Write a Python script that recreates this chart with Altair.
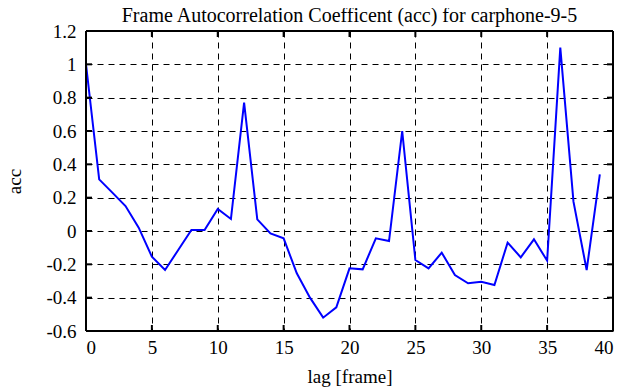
import altair as alt
import pandas as pd

lags = list(range(40))
acc = [1.0, 0.31, 0.23, 0.15, 0.02, -0.154, -0.234, -0.114, 0.006, 0.006,
       0.132, 0.072, 0.77, 0.07, -0.014, -0.044, -0.254, -0.40, -0.52, -0.458,
       -0.224, -0.23, -0.044, -0.06, 0.60, -0.174, -0.224, -0.13, -0.264, -0.314,
       -0.304, -0.324, -0.07, -0.158, -0.05, -0.178, 1.10, 0.176, -0.234, 0.34]

x_ticks = [0, 5, 10, 15, 20, 25, 30, 35, 40]
y_ticks = [-0.6, -0.4, -0.2, 0.0, 0.2, 0.4, 0.6, 0.8, 1.0, 1.2]

W, H = 527, 300
FONT = "Liberation Serif"

df = pd.DataFrame({"lag": lags, "acc": acc})
xt = pd.DataFrame({"lag": x_ticks})
yt = pd.DataFrame({"acc": y_ticks})
one = pd.DataFrame({"k": [0]})

xscale = alt.Scale(domain=[0, 40], nice=False, zero=False)
yscale = alt.Scale(domain=[-0.6, 1.2], nice=False, zero=False)

label_expr = "datum.value < 0 ? '-' + format(-datum.value, '~g') : format(datum.value, '~g')"

common = dict(grid=True, ticks=False, domain=False,
              gridColor="black", gridOpacity=1, gridDash=[6, 5], gridWidth=1,
              labelFont=FONT, labelFontSize=19, labelColor="black",
              titleFont=FONT, titleFontSize=19, titleFontWeight="normal", titleColor="black")

xaxis = alt.Axis(values=x_ticks, labelPadding=7, titlePadding=10, format="~g", **common)
yaxis = alt.Axis(values=y_ticks, labelPadding=10, titlePadding=21, labelExpr=label_expr, **common)

X = alt.X("lag:Q", scale=xscale, title="lag [frame]", axis=xaxis)
Y = alt.Y("acc:Q", scale=yscale, title="acc", axis=yaxis)

line = alt.Chart(df).mark_line(color="#0000ff", strokeWidth=2, clip=True).encode(x=X, y=Y)

tick_style = dict(color="black", strokeWidth=2)
xb = alt.Chart(xt).mark_rule(**tick_style).encode(x=X, y=alt.value(H), y2=alt.value(H - 6))
xtop = alt.Chart(xt).mark_rule(**tick_style).encode(x=X, y=alt.value(0), y2=alt.value(6))
yl = alt.Chart(yt).mark_rule(**tick_style).encode(y=Y, x=alt.value(0), x2=alt.value(6))
yr = alt.Chart(yt).mark_rule(**tick_style).encode(y=Y, x=alt.value(W), x2=alt.value(W - 6))

# frame (four sides)
b_top = alt.Chart(one).mark_rule(**tick_style).encode(x=alt.value(0), x2=alt.value(W), y=alt.value(0))
b_bot = alt.Chart(one).mark_rule(**tick_style).encode(x=alt.value(0), x2=alt.value(W), y=alt.value(H))
b_left = alt.Chart(one).mark_rule(**tick_style).encode(y=alt.value(0), y2=alt.value(H), x=alt.value(0))
b_right = alt.Chart(one).mark_rule(**tick_style).encode(y=alt.value(0), y2=alt.value(H), x=alt.value(W))

chart = alt.layer(line, xb, xtop, yl, yr, b_top, b_bot, b_left, b_right).properties(
    width=W, height=H,
    background="white",
    title=alt.TitleParams("Frame Autocorrelation Coefficent (acc) for carphone-9-5",
                          font=FONT, fontSize=20, fontWeight="normal", color="black",
                          offset=1, dy=5),
    autosize=alt.AutoSizeParams(type="none"),
    padding={"left": 78, "top": 23, "right": 14, "bottom": 56},
)

chart.save("out.html", embed_options={"renderer": "svg", "actions": False})
